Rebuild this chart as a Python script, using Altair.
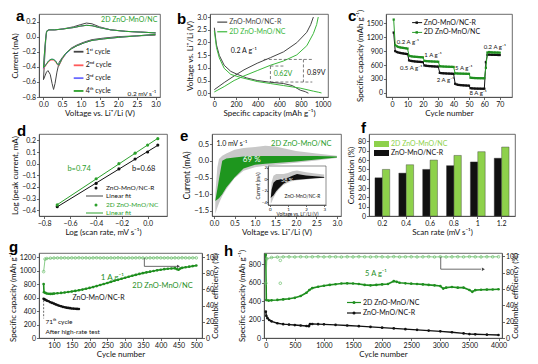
import altair as alt
import pandas as pd

FONT = "Lato"
BOLD = "Liberation Sans"
GRN = "#2ca02c"
DGRN = "#1f8f1f"
LGRN = "#8ed14b"
BLK = "#111111"
GRY = "#454545"
RED = "#ff5a5a"
BLU = "#6a6aff"
CEG = "#6cbf6c"

# ---------------- panel a : CV cycles ----------------
A_V_1 = [3.0, 2.5, 2.0, 1.6, 1.3, 1.1, 0.9, 0.75, 0.6, 0.5, 0.42, 0.36, 0.31, 0.27, 0.23, 0.18, 0.12, 0.08, 0.04, 0.0,
         0.03, 0.06, 0.08, 0.1, 0.15, 0.3, 0.5, 0.8, 1.0, 1.15, 1.3, 1.5, 1.8, 2.2, 2.6, 3.0]
A_I_1 = [0.02, 0.01, 0.0, -0.02, -0.04, -0.07, -0.11, -0.15, -0.22, -0.28, -0.34, -0.47, -0.62, -0.70, -0.62, -0.50, -0.45, -0.47, -0.52, -0.57,
         -0.30, -0.05, 0.05, 0.08, 0.09, 0.09, 0.10, 0.13, 0.16, 0.18, 0.17, 0.13, 0.09, 0.07, 0.06, 0.05]
A_V = [3.0, 2.5, 2.0, 1.6, 1.3, 1.1, 0.9, 0.75, 0.6, 0.5, 0.45, 0.41, 0.37, 0.32, 0.26, 0.2, 0.14, 0.08, 0.04, 0.0,
       0.03, 0.06, 0.08, 0.1, 0.15, 0.3, 0.5, 0.8, 1.0, 1.15, 1.3, 1.5, 1.8, 2.2, 2.6, 3.0]
A_I_2 = [0.03, 0.01, -0.01, -0.03, -0.05, -0.08, -0.12, -0.16, -0.23, -0.30, -0.35, -0.39, -0.37, -0.33, -0.31, -0.31, -0.33, -0.37, -0.40, -0.43,
         -0.20, -0.02, 0.06, 0.08, 0.09, 0.09, 0.10, 0.12, 0.14, 0.15, 0.145, 0.12, 0.09, 0.07, 0.06, 0.05]
A_I_3 = [0.03, 0.01, -0.01, -0.03, -0.05, -0.08, -0.12, -0.16, -0.23, -0.29, -0.34, -0.38, -0.36, -0.32, -0.30, -0.30, -0.32, -0.36, -0.39, -0.42,
         -0.20, -0.02, 0.06, 0.08, 0.09, 0.09, 0.10, 0.12, 0.14, 0.15, 0.145, 0.12, 0.09, 0.07, 0.06, 0.05]
A_I_4 = [0.03, 0.01, -0.01, -0.03, -0.05, -0.08, -0.12, -0.16, -0.22, -0.29, -0.34, -0.38, -0.36, -0.32, -0.30, -0.30, -0.32, -0.36, -0.39, -0.41,
         -0.19, -0.02, 0.06, 0.08, 0.09, 0.09, 0.10, 0.12, 0.14, 0.15, 0.145, 0.12, 0.09, 0.07, 0.06, 0.05]
A_LEG = ["1ˢᵗ cycle", "2ⁿᵈ cycle", "3ʳᵈ cycle", "4ᵗʰ cycle"]

# ---------------- panel b : charge / discharge ----------------
B_R_DIS_C = [0, 20, 46, 91, 152, 213, 300, 396, 500, 640, 720, 793, 840, 869]
B_R_DIS_V = [2.58, 1.9, 1.49, 1.1, 0.86, 0.74, 0.6, 0.5, 0.44, 0.38, 0.3, 0.12, 0.06, 0.0]
B_G_DIS_C = [0, 20, 46, 91, 152, 244, 396, 520, 640, 793, 915, 960, 990]
B_G_DIS_V = [2.46, 1.8, 1.39, 0.98, 0.74, 0.62, 0.46, 0.38, 0.30, 0.2, 0.08, 0.04, 0.01]
B_R_CH_C = [0, 91, 183, 274, 396, 518, 640, 762, 854, 890, 915]
B_R_CH_V = [0.14, 0.42, 0.68, 0.92, 1.18, 1.4, 1.63, 1.99, 2.4, 2.7, 3.0]
B_G_CH_C = [0, 91, 183, 274, 396, 518, 640, 762, 854, 915, 945, 960]
B_G_CH_V = [0.05, 0.26, 0.5, 0.68, 0.89, 1.1, 1.27, 1.51, 1.87, 2.35, 2.7, 3.0]

# ---------------- panel c : rate capability ----------------
C_CYC = list(range(1, 71))
C_G = [1580, 1030, 1005, 990, 980, 975, 970, 965, 960, 955,
       800, 790, 785, 780, 778, 775, 772, 770, 768, 765,
       690, 685, 682, 680, 678, 676, 675, 673, 672, 670,
       575, 570, 568, 566, 565, 563, 562, 561, 560, 558,
       420, 418, 416, 415, 414, 413, 412, 411, 410, 410,
       325, 322, 320, 318, 317, 316, 315, 315, 314, 314,
       540, 870, 880, 875, 872, 870, 870, 868, 868, 866]
C_R = [1300, 900, 880, 870, 862, 855, 850, 845, 840, 835,
       700, 690, 685, 680, 676, 673, 670, 668, 665, 662,
       590, 585, 580, 577, 575, 572, 570, 568, 566, 565,
       430, 425, 422, 420, 418, 416, 415, 414, 412, 410,
       195, 180, 172, 168, 165, 162, 160, 158, 156, 155,
       100, 96, 94, 92, 91, 90, 90, 89, 88, 88,
       660, 820, 825, 822, 820, 820, 818, 818, 816, 815]

# ---------------- panel d : b-value ----------------
D_LX = [-0.699, -0.398, -0.222, -0.097, 0.0, 0.079]
D_R = [-0.37, -0.17, -0.045, 0.04, 0.10, 0.16]
D_G = [-0.355, -0.13, 0.0, 0.09, 0.16, 0.215]

# ---------------- panel e : capacitive contribution ----------------
E_V = [0.03, 0.08, 0.12, 0.2, 0.3, 0.5, 0.72, 1.0, 1.25, 1.5, 2.0, 2.5, 3.0]
E_TOT_HI = [-1.0, -0.2, 0.05, 0.15, 0.22, 0.33, 0.38, 0.41, 0.45, 0.43, 0.29, 0.22, 0.15]
E_TOT_LO = [-1.58, -1.4, -1.27, -1.05, -0.85, -0.52, -0.3, -0.19, -0.15, -0.12, -0.06, 0.01, 0.08]
E_CAP_HI = [-1.2, -0.85, -0.55, 0.0, 0.07, 0.1, 0.13, 0.14, 0.14, 0.14, 0.14, 0.14, 0.13]
E_CAP_LO = [-1.2, -1.16, -1.12, -1.0, -0.8, -0.5, -0.23, -0.12, -0.09, -0.07, -0.02, 0.04, 0.1]
EI_V = [0.05, 0.1, 0.2, 0.35, 0.5, 0.75, 1.0, 1.25, 1.5, 2.0, 2.5, 3.0]
EI_TOT_HI = [-2.5, -0.5, 0.6, 0.9, 0.9, 0.9, 1.1, 1.4, 1.5, 1.2, 1.0, 0.8]
EI_TOT_LO = [-4.3, -4.0, -3.3, -2.4, -1.8, -1.0, -0.6, -0.35, -0.2, -0.05, 0.1, 0.2]
EI_CAP_HI = [-3.3, -1.8, -0.6, -0.2, -0.1, 0.1, 0.25, 0.6, 0.9, 0.65, 0.5, 0.4]
EI_CAP_LO = [-3.3, -3.1, -2.85, -2.1, -1.6, -0.8, -0.35, -0.2, -0.1, 0.05, 0.15, 0.25]

# ---------------- panel f : contribution bars ----------------
F_RATE = ["0.2", "0.4", "0.6", "0.8", "1", "1.2"]
F_R = [41, 46, 50, 54, 58, 62]
F_G = [50, 55, 60, 65, 69, 74]
F_SER = ["ZnO-MnO/NC-R", "2D ZnO-MnO/NC"]

# ---------------- panel g : 1 A/g cycling ----------------
G_CYC = [71, 72, 76, 80, 85, 90, 95, 100, 110, 120,
         130, 140, 150, 160, 170, 180, 190, 200, 210, 220,
         230, 240, 250, 260, 270, 280, 290, 300, 310, 320,
         330, 340, 350, 360, 370, 380, 390, 400, 410, 420,
         430, 440, 445, 450, 455, 460, 470, 480, 490, 500]
G_CAP = [800, 680, 668, 660, 656, 654, 655, 658, 663, 668,
         675, 682, 690, 698, 708, 718, 730, 742, 755, 770,
         785, 800, 815, 832, 848, 862, 878, 893, 908, 922,
         936, 950, 962, 973, 983, 993, 1003, 1012, 1020, 1026,
         1031, 1035, 1022, 1012, 1030, 1040, 1048, 1057, 1066, 1075]
G_R_CYC = [71, 73, 76, 80, 85, 90, 95, 100, 105, 110, 115, 120, 125, 130, 135, 140, 145, 150, 155, 160, 165, 170]
G_R_CAP = [580, 575, 565, 555, 545, 530, 520, 510, 498, 488, 478, 470, 462, 456, 450, 446, 442, 438, 436, 433, 431, 430]
G_CE_CYC = [71, 75, 80, 90, 100, 110, 120, 130, 140, 150, 160, 170, 180, 190, 200, 210, 220, 230, 240, 250,
            260, 270, 280, 290, 300, 310, 320, 330, 340, 350, 360, 370, 380, 390, 400, 410, 420, 430, 440, 450,
            460, 470, 480, 490, 500]
G_CE = [82, 97.5, 98.2, 98.6, 98.8, 98.9, 98.9, 99.0, 98.8, 99.0, 98.9, 99.1, 98.9, 99.0, 98.8, 99.0, 99.1, 98.9, 99.0, 98.8,
        99.0, 98.9, 99.1, 99.0, 98.8, 99.0, 98.9, 99.0, 99.1, 98.9, 98.8, 99.0, 98.9, 99.1, 99.0, 98.9, 99.0, 98.8, 99.0, 98.9,
        99.1, 99.0, 98.9, 99.0, 99.0]

# ---------------- panel h : 5 A/g long cycling ----------------
H_CYC = [1, 10, 50, 100, 200, 300, 400, 500, 600, 700,
         750, 800, 900, 1000, 1100, 1200, 1300, 1400, 1500, 1600,
         1700, 1800, 1900, 2000, 2100, 2200, 2250, 2300, 2400, 2500,
         2600, 2700, 2800, 2900, 3000, 3050, 3100, 3200, 3300, 3400,
         3500, 3550, 3600, 3700, 3800, 3900, 4000]
H_CAP = [900, 410, 405, 408, 412, 418, 425, 435, 455, 490,
         520, 540, 555, 565, 575, 582, 590, 592, 590, 585,
         575, 570, 575, 580, 585, 615, 608, 598, 592, 588,
         584, 580, 575, 570, 562, 535, 545, 552, 545, 545,
         520, 500, 518, 522, 524, 525, 528]
H_R_CYC = [1, 10, 30, 60, 100, 200, 300, 400, 500, 600, 700, 740, 760, 800, 900, 1000,
           1200, 1400, 1600, 1800, 2000, 2200, 2400, 2600, 2800, 3000, 3200, 3400, 3500, 3600, 3800, 4000]
H_R_CAP = [285, 240, 215, 195, 180, 160, 150, 145, 140, 135, 130, 128, 150, 152, 150, 148,
           142, 135, 128, 120, 112, 104, 96, 88, 80, 72, 62, 50, 42, 40, 36, 32]
H_CE_CYC = [1, 20, 100, 200, 300, 400, 500, 600, 700, 800, 900, 1000, 1100, 1200, 1300, 1400, 1500, 1600,
            1700, 1800, 1900, 2000, 2100, 2200, 2300, 2400, 2500, 2600, 2700, 2800, 2900, 3000, 3100, 3200,
            3300, 3400, 3500, 3600, 3700, 3800, 3900, 4000]
H_CE = [67, 97, 98.5, 99, 99.2, 99.3, 99.1, 99.4, 99.2, 99.3, 99.5, 99.2, 99.4, 99.3, 99.1, 99.4, 99.2, 99.5,
        99.3, 99.2, 99.4, 99.3, 99.1, 99.5, 99.2, 99.3, 99.4, 99.2, 99.3, 99.5, 99.1, 99.4, 99.2, 99.3,
        99.4, 99.2, 99.5, 99.3, 99.2, 99.4, 99.3, 99.4]
H_CEO_CYC = [250, 250]
H_CEO = [95, 67]

# ======================================================================
ONE = pd.DataFrame({"k": [0]})


def qax(ch, domain, values, title, fmt=None, rng=None, **ax):
    kw = dict(values=values, title=title, labelOverlap=False)
    if fmt:
        kw["format"] = fmt
    kw.update(ax)
    skw = dict(domain=domain, nice=False, zero=False)
    if rng:
        skw["range"] = rng
    enc = alt.X if ch == "x" else alt.Y
    return enc(ch + ":Q", scale=alt.Scale(**skw), axis=alt.Axis(**kw))


def df_xy(xs, ys):
    return pd.DataFrame({"x": xs, "y": ys, "k": list(range(len(xs)))})


def line(xs, ys, X, Y, color, width=1.0, ordered=False):
    enc = dict(x=X, y=Y)
    if ordered:
        enc["order"] = alt.Order("k:Q")
    return alt.Chart(df_xy(xs, ys)).mark_line(color=color, strokeWidth=width).encode(**enc)


def pts(xs, ys, X, Y, color, shape="circle", size=8, filled=True, sw=0.8):
    return alt.Chart(df_xy(xs, ys)).mark_point(color=color, shape=shape, size=size, filled=filled,
                                               opacity=1, strokeWidth=sw).encode(x=X, y=Y)


def area(xs, lo, hi, X, Y, color):
    return alt.Chart(pd.DataFrame({"x": xs, "y": lo, "hi": hi})).mark_area(color=color, opacity=1).encode(
        x=X, y=Y, y2="hi:Q")


def T(s, x, y, X, Y, color=BLK, size=7, align="left", baseline="middle", **kw):
    return alt.Chart(pd.DataFrame({"x": [x], "y": [y]})).mark_text(
        text=s, color=color, fontSize=size, align=align, baseline=baseline, font=FONT, **kw).encode(x=X, y=Y)


def SEG(x1, y1, x2, y2, X, Y, color=GRY, width=1.0, dash=None):
    kw = dict(color=color, strokeWidth=width)
    if dash:
        kw["strokeDash"] = dash
    df = pd.DataFrame({"x": [x1], "y": [y1], "x2": [x2], "y2": [y2]})
    return alt.Chart(df).mark_rule(**kw).encode(x=X, y=Y, x2="x2:Q", y2="y2:Q")


def DPT(x, y, X, Y, color, shape="triangle-right", size=14):
    return alt.Chart(pd.DataFrame({"x": [x], "y": [y]})).mark_point(
        color=color, shape=shape, size=size, filled=True, opacity=1).encode(x=X, y=Y)


def PT(s, px, py, color=BLK, size=7, align="left", baseline="middle", **kw):
    return alt.Chart(ONE).mark_text(text=s, color=color, fontSize=size, align=align, baseline=baseline,
                                    font=FONT, **kw).encode(x=alt.value(px), y=alt.value(py))


def PSEG(x1, y1, x2, y2, color=GRY, width=1.2):
    return alt.Chart(ONE).mark_rule(color=color, strokeWidth=width).encode(
        x=alt.value(x1), y=alt.value(y1), x2=alt.value(x2), y2=alt.value(y2))


def PPT(px, py, color, shape="circle", size=10, filled=True):
    return alt.Chart(ONE).mark_point(color=color, shape=shape, size=size, filled=filled, opacity=1).encode(
        x=alt.value(px), y=alt.value(py))


def LET(s, px, py):
    return alt.Chart(ONE).mark_text(text=s, fontSize=15, fontWeight="bold", font=BOLD, align="left",
                                    baseline="alphabetic", color="black").encode(x=alt.value(px), y=alt.value(py))


def spacer(w, h):
    return alt.Chart(ONE).mark_point(opacity=0).encode(x=alt.value(0), y=alt.value(0)).properties(
        width=w, height=h, view=alt.ViewBackground(stroke="transparent"))


H1, H2, H3 = 83, 82, 85

# ---------------- a ----------------
AX = qax("x", [-0.12, 3.12], [0, 0.5, 1, 1.5, 2, 2.5, 3], "Voltage vs. Li⁺/Li (V)", ".1f")
AY = qax("y", [-0.8, 0.3], [-0.8, -0.6, -0.4, -0.2, 0, 0.2], "Current (mA)", ".1f")
a_cols = [GRY, RED, BLU, GRN]
a_layers = [line(A_V_1, A_I_1, AX, AY, GRY, 1, True), line(A_V, A_I_2, AX, AY, RED, 1, True),
            line(A_V, A_I_3, AX, AY, BLU, 1, True), line(A_V, A_I_4, AX, AY, GRN, 1, True)]
for i, (lab, yv) in enumerate(zip(A_LEG, [-0.2, -0.38, -0.55, -0.72])):
    a_layers.append(SEG(0.81, yv, 1.07, yv, AX, AY, a_cols[i], 1.8))
    a_layers.append(T(lab, 1.13, yv, AX, AY, BLK, 7))
a_layers += [T("2D ZnO-MnO/NC", 3.05, 0.225, AX, AY, GRN, 7, align="right"),
             T("0.2 mV s⁻¹", 3.02, -0.755, AX, AY, BLK, 6.5, align="right"),
             LET("a", -23, 7)]
pa = alt.layer(*a_layers).properties(width=121, height=H1)

# ---------------- b ----------------
BX = qax("x", [-40, 1050], [0, 200, 400, 600, 800, 1000], "Specific capacity (mAh g⁻¹)", "d")
BY = qax("y", [-0.15, 3.12], [0, 0.5, 1, 1.5, 2, 2.5, 3], "Voltage vs. Li⁺/Li (V)", ".1f")
BG = "#3cb83c"
b_layers = [line(B_R_DIS_C, B_R_DIS_V, BX, BY, GRY), line(B_R_CH_C, B_R_CH_V, BX, BY, GRY),
            line(B_G_DIS_C, B_G_DIS_V, BX, BY, BG), line(B_G_CH_C, B_G_CH_V, BX, BY, BG)]
dsh = [3, 2]
b_layers += [SEG(457, 1.33, 905, 1.33, BX, BY, GRY, 0.7, dsh), SEG(518, 1.07, 640, 1.07, BX, BY, GRY, 0.7, dsh),
             SEG(518, 0.44, 905, 0.44, BX, BY, GRY, 0.7, dsh), SEG(518, 1.07, 518, 0.44, BX, BY, GRY, 0.7, dsh),
             SEG(823, 1.33, 823, 0.44, BX, BY, GRY, 0.7, dsh)]
b_layers += [SEG(27, 2.8, 119, 2.8, BX, BY, GRY, 1.2), T("ZnO-MnO/NC-R", 137, 2.8, BX, BY, GRY, 7),
             SEG(27, 2.42, 119, 2.42, BX, BY, BG, 1.2), T("2D ZnO-MnO/NC", 137, 2.42, BX, BY, BG, 7),
             T("0.2 A g⁻¹", 152, 1.65, BX, BY, BLK, 7), T("0.62V", 548, 0.76, BX, BY, GRN, 7),
             T("0.89V", 855, 0.79, BX, BY, BLK, 7), LET("b", -33, 10)]
pb = alt.layer(*b_layers).properties(width=118, height=H1)

# ---------------- c ----------------
CX = qax("x", [-4, 78], [0, 10, 20, 30, 40, 50, 60, 70], "Cycle number")
CY = qax("y", [-90, 1700], [0, 300, 600, 900, 1200, 1500], "Specific capacity (mAh g⁻¹)", "d")
c_layers = [line(C_CYC, C_R, CX, CY, BLK, 1), pts(C_CYC, C_R, CX, CY, BLK, "square", 5),
            line(C_CYC, C_G, CX, CY, GRN, 1), pts(C_CYC, C_G, CX, CY, DGRN, "square", 5)]
c_layers += [SEG(13, 1514, 19.5, 1514, CX, CY, BLK, 1), DPT(16, 1514, CX, CY, BLK, "square", 6),
             T("ZnO-MnO/NC-R", 20.6, 1514, CX, CY, BLK, 7),
             SEG(13, 1303, 19.5, 1303, CX, CY, GRN, 1), DPT(16, 1303, CX, CY, DGRN, "square", 6),
             T("2D ZnO-MnO/NC", 20.6, 1303, CX, CY, BLK, 7)]
for s, x, y in [("0.2 A g⁻¹", 10.3, 1092), ("0.5 A g⁻¹", 12.3, 546), ("1 A g⁻¹", 26.6, 816), ("2 A g⁻¹", 34.7, 270),
                ("5 A g⁻¹", 46.6, 533), ("8 A g⁻¹", 56, 7), ("0.2 A g⁻¹", 66.8, 993)]:
    c_layers.append(T(s, x, y, CX, CY, BLK, 6, align="center"))
c_layers.append(LET("c", -38, 7))
pc = alt.layer(*c_layers).properties(width=126, height=H1)

# ---------------- d ----------------
DX = qax("x", [-0.84, 0.15], [-0.8, -0.6, -0.4, -0.2, 0.0], "Log (scan rate, mV s⁻¹)", ".1f")
DY = qax("y", [-0.45, 0.255], [-0.4, -0.3, -0.2, -0.1, 0.0, 0.1, 0.2], "Log (peak current, mA)", ".1f")


def dfit(ys, color):
    base = alt.Chart(df_xy(D_LX, ys))
    fit = base.transform_regression("x", "y").mark_line(color=color, strokeWidth=1).encode(x=DX, y=DY)
    p = base.mark_point(filled=True, size=10, color=color, opacity=1).encode(x=DX, y=DY)
    return [fit, p]


d_layers = dfit(D_R, BLK) + dfit(D_G, GRN)
d_layers += [PPT(57, 54, BLK, size=9), PT("ZnO-MnO/NC-R", 67, 54, BLK, 6.5),
             PSEG(47, 62, 64, 62, GRY, 1), PT("Linear fit", 67, 62, BLK, 6.5),
             PPT(57, 71, GRN, size=9), PT("2D ZnO-MnO/NC", 67, 71, GRN, 6.5),
             PSEG(47, 79, 64, 79, GRN, 1), PT("Linear fit", 67, 79, GRN, 6.5),
             T("b=0.74", -0.53, -0.05, DX, DY, GRN, 7.5, align="center"),
             T("b=0.68", -0.03, -0.05, DX, DY, BLK, 7.5, align="center"),
             LET("d", -22, 2)]
pd_ = alt.layer(*d_layers).properties(width=128, height=H2)

# ---------------- e ----------------
EW = 129
EX = qax("x", [-0.05, 3.1], [0, 0.5, 1, 1.5, 2, 2.5, 3], "Voltage vs. Li⁺/Li (V)", ".1f")
EY = qax("y", [-1.65, 0.8], [-1.5, -1, -0.5, 0, 0.5], "Current (mA)", ".1f", labelFontSize=7.5, titleFontSize=8.5)
IN_X0, IN_X1, IN_Y0, IN_Y1 = 56, 114, 71, 32
e_main = alt.layer(area(E_V, E_TOT_LO, E_TOT_HI, EX, EY, "#c8c8c8"),
                   area(E_V, E_CAP_LO, E_CAP_HI, EX, EY, "#1e961e"),
                   T("69 %", 0.92, 0.03, EX, EY, "white", 8, align="center"),
                   T("1.0 mV s⁻¹", 0.06, 0.5, EX, EY, BLK, 7),
                   T("2D ZnO-MnO/NC", 2.13, 0.5, EX, EY, GRN, 7.5, align="center"),
                   alt.Chart(ONE).mark_rect(fill="white", fillOpacity=0, stroke=GRY, strokeWidth=0.6).encode(
                       x=alt.value(IN_X0), x2=alt.value(IN_X1), y=alt.value(IN_Y1), y2=alt.value(IN_Y0)),
                   LET("e", -32, 7))
small = dict(labelFontSize=4.5, titleFontSize=4.8, tickSize=1.5, labelPadding=0)
IX = qax("x", [-0.1, 3.1], [0, 1, 2, 3], "Voltage vs. Li⁺/Li (V)", "d", [IN_X0, IN_X1],
         orient="bottom", offset=IN_Y0 - H2, titlePadding=0, **small)
IY = qax("y", [-4.5, 2.3], [-4, -2, 0, 2], "Current (mA)", "d", [IN_Y0, IN_Y1],
         orient="left", offset=-IN_X0, titlePadding=1, **small)
e_inset = alt.layer(area(EI_V, EI_TOT_LO, EI_TOT_HI, IX, IY, "#c8c8c8"),
                    area(EI_V, EI_CAP_LO, EI_CAP_HI, IX, IY, "#111111"),
                    T("58 %", 0.95, -0.2, IX, IY, "white", 5.5, align="center"),
                    T("ZnO-MnO/NC-R", 1.8, -3.1, IX, IY, BLK, 4.8, align="center"))
pe = alt.layer(e_main, e_inset).resolve_scale(x="independent", y="independent").properties(width=EW, height=H2)

# ---------------- f ----------------
df_f = pd.DataFrame({"rate": F_RATE * 2, "s": [F_SER[0]] * 6 + [F_SER[1]] * 6, "v": F_R + F_G})
f_bars = alt.Chart(df_f).mark_bar(stroke="#333333", strokeWidth=0.4).encode(
    x=alt.X("rate:N", sort=F_RATE, scale=alt.Scale(paddingInner=0.38, paddingOuter=0.25),
            axis=alt.Axis(title="Scan rate (mV s⁻¹)", labelAngle=0, labelOverlap=False)),
    xOffset=alt.XOffset("s:N", sort=F_SER),
    y=alt.Y("v:Q", scale=alt.Scale(domain=[0, 88], nice=False),
            axis=alt.Axis(values=[0, 10, 20, 30, 40, 50, 60, 70, 80], title="Contribution (%)", labelOverlap=False)),
    color=alt.Color("s:N", scale=alt.Scale(domain=F_SER, range=[BLK, LGRN]), legend=None))
f_leg = [alt.Chart(ONE).mark_rect(color=LGRN).encode(x=alt.value(5), x2=alt.value(20), y=alt.value(7), y2=alt.value(13)),
         PT("2D ZnO-MnO/NC", 22, 10, LGRN, 7),
         alt.Chart(ONE).mark_rect(color=BLK).encode(x=alt.value(5), x2=alt.value(20), y=alt.value(16), y2=alt.value(22)),
         PT("ZnO-MnO/NC-R", 22, 19, BLK, 7), LET("f", -8, -1)]
pf = alt.layer(f_bars, *f_leg).properties(width=146, height=H2)

# ---------------- g ----------------
GX = qax("x", [58, 516], [100, 150, 200, 250, 300, 350, 400, 450, 500], "Cycle number", "d")
GY = qax("y", [0, 1260], [0, 200, 400, 600, 800, 1000, 1200], "Specific capacity (mAh g⁻¹)", "d")
GY2 = qax("y", [0, 105], [0, 20, 40, 60, 80, 100], "Coulombic efficiency (%)", "d", orient="right", titleAngle=270)
g_left = alt.layer(
    line(G_CYC, G_CAP, GX, GY, DGRN, 1.6), pts(G_CYC, G_CAP, GX, GY, DGRN, "circle", 7),
    line(G_R_CYC, G_R_CAP, GX, GY, BLK, 1.4), pts(G_R_CYC, G_R_CAP, GX, GY, BLK, "circle", 7),
    SEG(71, 560, 71, 290, GX, GY, GRY, 0.8, [2, 1.5]),
    T("1 A g⁻¹", 264, 883, GX, GY, DGRN, 8, align="center"),
    T("2D ZnO-MnO/NC", 405, 767, GX, GY, DGRN, 7.5, align="center"),
    T("ZnO-MnO/NC-R", 152, 594, GX, GY, BLK, 7),
    T("71ᵗʰ cycle", 76, 232, GX, GY, BLK, 6.5),
    T("After high-rate test", 76, 84, GX, GY, BLK, 6.5),
    LET("g", -30, -1))
g_right = alt.layer(
    line(G_CE_CYC, G_CE, GX, GY2, CEG, 0.8), pts(G_CE_CYC, G_CE, GX, GY2, CEG, "circle", 7, False, 0.7),
    SEG(354, 98.8, 354, 88.5, GX, GY2, GRY, 0.8), SEG(354, 88.5, 446, 88.5, GX, GY2, GRY, 0.8),
    DPT(450, 88.5, GX, GY2, GRY, "triangle-right", 12))
pg = alt.layer(g_left, g_right).resolve_scale(y="independent").properties(width=163, height=H3)

# ---------------- h ----------------
HX = qax("x", [-30, 4060], [0, 500, 1000, 1500, 2000, 2500, 3000, 3500, 4000], "Cycle number", "d")
HY = qax("y", [0, 920], [0, 200, 400, 600, 800], "Specific capacity (mAh g⁻¹)", "d")
HY2 = qax("y", [0, 104], [0, 20, 40, 60, 80, 100], "Coulombic efficiency (%)", "d", orient="right", titleAngle=270)
h_left = alt.layer(
    line(H_CYC, H_CAP, HX, HY, DGRN, 1.6), pts(H_CYC, H_CAP, HX, HY, DGRN, "circle", 7),
    line(H_R_CYC, H_R_CAP, HX, HY, BLK, 1.4), pts(H_R_CYC, H_R_CAP, HX, HY, BLK, "circle", 7),
    T("5 A g⁻¹", 1894, 695, HX, HY, DGRN, 7.5, align="center"),
    PSEG(83, 49.5, 97, 49.5, DGRN, 1.2), PPT(90, 49.5, DGRN, size=9), PT("2D ZnO-MnO/NC", 99, 49.5, BLK, 7),
    PSEG(83, 60, 97, 60, BLK, 1.2), PPT(90, 60, BLK, size=9), PT("ZnO-MnO/NC-R", 99, 60, BLK, 7),
    LET("h", -40, 3))
h_right = alt.layer(
    line(H_CE_CYC, H_CE, HX, HY2, CEG, 0.8), pts(H_CE_CYC, H_CE, HX, HY2, CEG, "circle", 7, False, 0.7),
    pts(H_CEO_CYC, H_CEO, HX, HY2, CEG, "circle", 7, False, 0.7),
    SEG(3007, 99.3, 3007, 84.2, HX, HY2, GRY, 0.8), SEG(3007, 84.2, 3700, 84.2, HX, HY2, GRY, 0.8),
    DPT(3740, 84.2, HX, HY2, GRY, "triangle-right", 12))
ph = alt.layer(h_left, h_right).resolve_scale(y="independent").properties(width=238, height=H3)

row1 = alt.hconcat(pa, spacer(50, H1), pb, spacer(58, H1), pc, spacing=0, bounds="flush")
row2 = alt.hconcat(pd_, spacer(45, H2), pe, spacer(28, H2), pf, spacing=0, bounds="flush")
row3 = alt.hconcat(pg, spacer(62, H3), ph, spacing=0, bounds="flush")

chart = alt.vconcat(row1, row2, row3, spacing=2).properties(padding=0).configure_axis(
    labelFont=FONT, titleFont=FONT, labelFontSize=7, titleFontSize=8, titleFontWeight="normal", grid=False,
    tickSize=2.5, labelPadding=1, titlePadding=2, domainColor=GRY, tickColor=GRY, labelColor=BLK,
    titleColor=BLK, labelOverlap=False, domainWidth=0.8, tickWidth=0.8
).configure_view(stroke=GRY, strokeWidth=0.8)

chart.save("out.html", embed_options={"renderer": "svg", "actions": False})
